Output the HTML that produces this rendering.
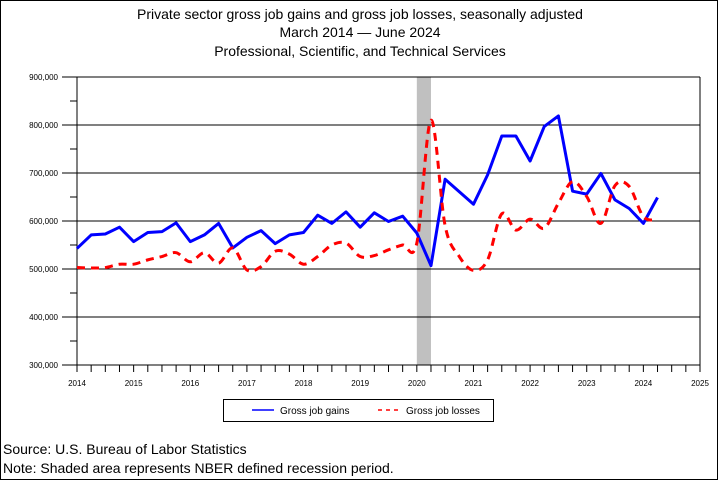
<!DOCTYPE html>
<html><head><meta charset="utf-8"><style>
body{margin:0;background:#fff}
svg{display:block;font-family:"Liberation Sans",Arial,sans-serif}
</style></head><body>
<svg id="chart" width="720" height="480" viewBox="0 0 720 480" xmlns="http://www.w3.org/2000/svg">
<rect x="0.5" y="0.5" width="717" height="479" fill="#fff" stroke="#000"/>
<text x="360" y="19" font-size="14" text-anchor="middle">Private sector gross job gains and gross job losses, seasonally adjusted</text>
<text x="360" y="37" font-size="14" text-anchor="middle">March 2014 — June 2024</text>
<text x="360" y="56" font-size="14" text-anchor="middle">Professional, Scientific, and Technical Services</text>
<g id="plot"></g>
<g>
<rect x="223.5" y="399.5" width="270" height="22" fill="none" stroke="#000"/>
<line x1="252" y1="410" x2="274" y2="410" stroke="#0000ff" stroke-width="1.5"/>
<text x="280" y="414" font-size="10">Gross job gains</text>
<line x1="378" y1="410" x2="398" y2="410" stroke="#ff0000" stroke-width="1.5" stroke-dasharray="4,4"/>
<text x="406" y="414" font-size="10">Gross job losses</text>
</g>
<text x="3" y="454" font-size="14">Source: U.S. Bureau of Labor Statistics</text>
<text x="3" y="473" font-size="14">Note: Shaded area represents NBER defined recession period.</text>
</svg>
<script>
const years=[2014,2015,2016,2017,2018,2019,2020,2021,2022,2023,2024,2025];
const yTicks=[300000,400000,500000,600000,700000,800000,900000];
const startYear=2014;
const gains=[543,571,573,587,557,576,578,596,557,571,595,544,566,580,553,571,576,612,595,619,587,617,599,610,575,507,687,661,635,696,777,777,725,797,819,662,656,699,644,626,595,649].map(v=>v*1000);
const losses=[503,502,503,510,510,519,526,534,515,534,512,544,498,505,537,531,510,526,550,554,526,528,540,550,554,810,590,526,497,519,615,581,604,585,637,682,651,595,674,672,609,603].map(v=>v*1000);
const recession=[2020.0,2020.25];

const X0=77,X1=700,Y0=365,Y1=77;
const xs=t=>X0+(t-2014)/(2025-2014)*(X1-X0);
const ys=v=>Y0-(v-300000)/(900000-300000)*(Y0-Y1);
const NS="http://www.w3.org/2000/svg";
const plot=document.getElementById('plot');
function mk(tag,attrs){const e=document.createElementNS(NS,tag);for(const k in attrs)e.setAttribute(k,attrs[k]);plot.appendChild(e);return e;}

const rec=mk('rect',{x:xs(recession[0]),y:Y1,width:xs(recession[1])-xs(recession[0]),height:Y0-Y1,fill:'#c0c0c0'});



yTicks.forEach(v=>{
  const g=mk('line',{x1:62,x2:X1,y1:ys(v),y2:ys(v),stroke:'#000','stroke-width':1});
  
  
  const t=mk('text',{x:58,y:ys(v)+3,'font-size':8,'text-anchor':'end'});
  t.textContent=v.toLocaleString('en-US');
  
  
  if(v<900000){
    const m=mk('line',{x1:70,x2:X0,y1:ys(v+50000),y2:ys(v+50000),stroke:'#000'});
    
    
  }
});
const ya=mk('line',{x1:X0,x2:X0,y1:Y1,y2:Y0,stroke:'#000'});


const ra=mk('line',{x1:X1,x2:X1,y1:Y1,y2:Y0,stroke:'#000'});


for(let q=0;q<=44;q++){
  const t=2014+q/4;
  const tk=mk('line',{x1:xs(t),x2:xs(t),y1:Y0,y2:Y0+(q%4===0?7:7),stroke:'#000'});
  
  
}
years.forEach(y=>{
  const t=mk('text',{x:xs(y),y:Y0+21,'font-size':8,'text-anchor':'middle'});
  t.textContent=y;
  
  
});

const tOf=i=>startYear+i/4;
const gp=gains.map((v,i)=>xs(tOf(i)).toFixed(1)+','+ys(v).toFixed(1)).join(' ');
const gl=mk('polyline',{points:gp,fill:'none',stroke:'#0000ff','stroke-width':3,'stroke-linejoin':'round'});



const P=losses.map((v,i)=>[xs(tOf(i)),ys(v)]);
let d='M'+P[0][0]+','+P[0][1];
for(let i=0;i<P.length-1;i++){
  const p0=P[Math.max(0,i-1)],p1=P[i],p2=P[i+1],p3=P[Math.min(P.length-1,i+2)];
  const c1=[p1[0]+(p2[0]-p0[0])/6,p1[1]+(p2[1]-p0[1])/6];
  const c2=[p2[0]-(p3[0]-p1[0])/6,p2[1]-(p3[1]-p1[1])/6];
  d+=' C'+c1.join(',')+' '+c2.join(',')+' '+p2.join(',');
}
const ll=mk('path',{d:d,fill:'none',stroke:'#ff0000','stroke-width':3,'stroke-dasharray':'8,6'});


</script>
</body></html>
